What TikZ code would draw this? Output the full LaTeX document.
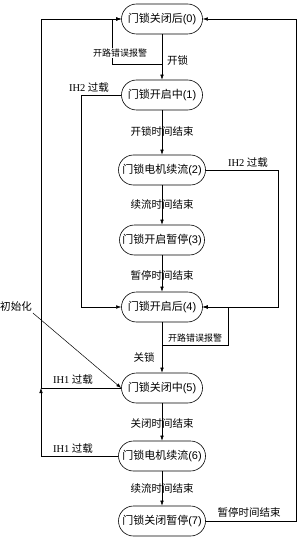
\documentclass[tikz,border=0pt]{standalone}
\usepackage{fontspec}
\setmainfont{Liberation Serif}
\setsansfont{Liberation Sans}
\newfontfamily\cjk{Noto Sans CJK SC}
\usetikzlibrary{arrows.meta}
\newcommand{\zh}[1]{{\cjk #1}}
\begin{document}
\begin{tikzpicture}[x=1pt,y=-1pt,
  state/.style={draw, line width=0.6pt, rounded corners=15pt, minimum width=81pt, minimum height=30pt, inner sep=2pt, font=\fontsize{11}{13}\selectfont},
  wide/.style={minimum width=87pt},
  lab/.style={font=\fontsize{10.5}{12}\selectfont, inner sep=1pt},
  small/.style={font=\fontsize{9}{10}\selectfont, inner sep=1pt},
  arr/.style={draw, line width=0.5pt, -{Latex[length=5pt,width=3.5pt]}},
  ln/.style={draw, line width=0.5pt}]
\useasboundingbox (0,0) rectangle (300,540);

% states
\node[state] (n0) at (162,19) {\zh{门锁关闭后}\textsf{(0)}};
\node[state] (n1) at (162,95) {\zh{门锁开启中}\textsf{(1)}};
\node[state,wide] (n2) at (162,170) {\zh{门锁电机续流}\textsf{(2)}};
\node[state,minimum width=85pt] (n3) at (162,240) {\zh{门锁开启暂停}\textsf{(3)}};
\node[state] (n4) at (162,307) {\zh{门锁开启后}\textsf{(4)}};
\node[state] (n5) at (162,388) {\zh{门锁关闭中}\textsf{(5)}};
\node[state,wide] (n6) at (162,456) {\zh{门锁电机续流}\textsf{(6)}};
\node[state,wide] (n7) at (162,521) {\zh{门锁关闭暂停}\textsf{(7)}};

% main vertical flow
\draw[arr] (n0) -- (n1);
\draw[arr] (n1) -- (n2);
\draw[arr] (n2) -- (n3);
\draw[arr] (n3) -- (n4);
\draw[arr] (n4) -- (n5);
\draw[arr] (n5) -- (n6);
\draw[arr] (n6) -- (n7);

% open-path error loop near state 0
\coordinate (b0) at (162,64);
\draw[arr] (b0) -- (112,64) -- (112,19) -- (n0.west);
\node[small, fill=white] (e0) at (120,53) {\zh{开路错误报警}};
\node[lab, anchor=west] (l01) at (166,61) {\zh{开锁}};

% open-path error loop near state 4
\coordinate (b4) at (162,345);
\draw[arr] (b4) -- (228,345) -- (228,307) -- (n4.east);
\node[small] (e4) at (195,338) {\zh{开路错误报警}};
\node[lab] (l45) at (144,357) {\zh{关锁}};

% timed transitions labels
\node[lab] (l12) at (162,132) {\zh{开锁时间结束}};
\node[lab] (l23) at (162,205) {\zh{续流时间结束}};
\node[lab] (l34) at (162,275) {\zh{暂停时间结束}};
\node[lab] (l56) at (162,423) {\zh{关闭时间结束}};
\node[lab] (l67) at (162,489) {\zh{续流时间结束}};

% IH2 overload
\draw[arr] (n1.west) -- (81,95) -- (81,307) -- (n4.west);
\node[lab] (h1) at (89,88) {IH2\ \zh{过载}};
\draw[arr] (n2.east) -- (278,170) -- (278,307) -- (n4.east);
\node[lab] (h2) at (248,163) {IH2\ \zh{过载}};

% IH1 overload
\coordinate (j5) at (41,388);
\draw[arr] (n5.west) -- (j5) -- (41,19) -- (n0.west);
\node[lab] (h5) at (73,380) {IH1\ \zh{过载}};
\draw[arr] (n6.west) -- (41,456) -- (j5);
\node[lab] (h6) at (73,449) {IH1\ \zh{过载}};

% pause end from state 7
\draw[arr] (n7.east) -- (296,521) -- (296,19) -- (n0.east);
\node[lab] (l70) at (249,512) {\zh{暂停时间结束}};

% initialisation
\node[lab] (init) at (16,307) {\zh{初始化}};
\draw[arr] (init.south east) -- (n5.west);
\end{tikzpicture}
\end{document}
